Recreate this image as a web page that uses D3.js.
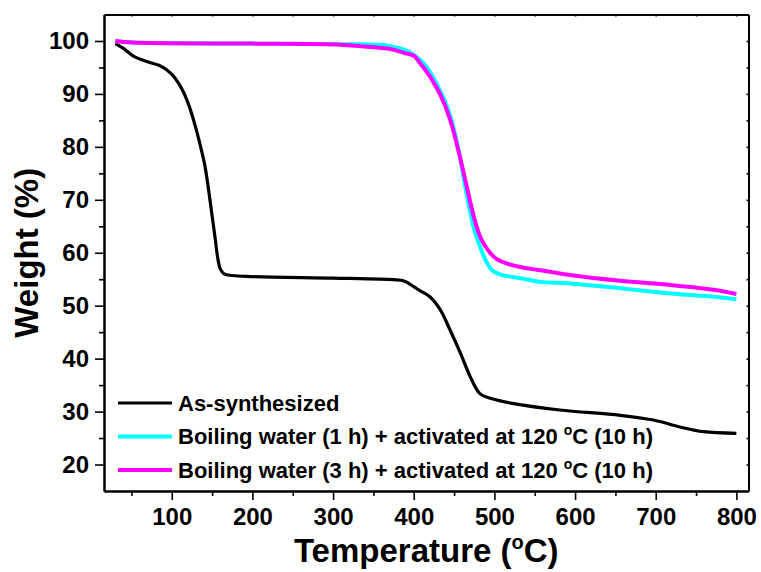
<!DOCTYPE html>
<html>
<head>
<meta charset="utf-8">
<script src="https://cdn.jsdelivr.net/npm/d3@7"></script>
<style>
  body { margin: 0; background: #fff; }
  text { font-family: "Liberation Sans", Arial, sans-serif; font-weight: bold; fill: #000; }
</style>
</head>
<body>
<script>
// As-synthesized
const tempAs = [30, 40, 52, 69, 84, 94, 104, 114, 122, 129, 135, 141, 146, 150, 154, 157, 160, 165, 175, 197, 300, 358, 387, 400, 408, 420, 433, 445, 458, 470, 482, 495, 524, 581, 656, 697, 730, 759, 800]
const weightAs = [99.5, 98.6, 97.2, 96.1, 95.4, 94.5, 93.0, 90.5, 87.5, 84.0, 80.5, 76.5, 71.5, 67.0, 62.5, 59.0, 57.0, 56.0, 55.7, 55.5, 55.2, 55.0, 54.7, 53.6, 52.8, 51.7, 49.2, 45.4, 41.0, 36.6, 33.4, 32.5, 31.5, 30.3, 29.3, 28.4, 27.1, 26.2, 25.9]

// Boiling water (1 h)
const temp1h = [30, 52, 200, 317, 358, 371, 391, 412, 433, 445, 455, 465, 474, 482, 490, 497, 507, 515, 532, 557, 594, 656, 718, 772, 800]
const weight1h = [100, 99.7, 99.5, 99.4, 99.3, 99.0, 98.2, 95.8, 90.5, 86.0, 79.8, 71.5, 64.9, 61.2, 58.3, 56.7, 55.9, 55.6, 55.2, 54.5, 54.2, 53.3, 52.3, 51.7, 51.2]

// Boiling water (3 h)
const temp3h = [30, 52, 200, 309, 358, 371, 391, 400, 408, 420, 433, 445, 455, 465, 475, 483, 492, 503, 515, 532, 557, 594, 656, 718, 772, 800]
const weight3h = [100, 99.7, 99.5, 99.3, 98.7, 98.5, 97.6, 97.2, 95.8, 93.3, 89.8, 85.2, 79.5, 73.0, 66.5, 62.8, 60.5, 58.8, 58.0, 57.3, 56.7, 55.8, 54.7, 53.9, 53.0, 52.2]

const xTicks = [100, 200, 300, 400, 500, 600, 700, 800]
const yTicks = [20, 30, 40, 50, 60, 70, 80, 90, 100]

const series = [
  {name: 'As-synthesized', temp: tempAs, weight: weightAs, color: '#000000', width: 3.2},
  {name: 'Boiling water (1 h) + activated at 120 ', temp: temp1h, weight: weight1h, color: '#00ffff', width: 4},
  {name: 'Boiling water (3 h) + activated at 120 ', temp: temp3h, weight: weight3h, color: '#ff00ff', width: 4}
]

const W = 761, H = 572
const margin = {top: 14.5, right: 12.5, bottom: 81, left: 104}
const width = W - margin.left - margin.right
const height = H - margin.top - margin.bottom

const svg = d3.select('body').append('svg')
  .attr('width', W)
  .attr('height', H)

const g = svg.append('g')
  .attr('transform', `translate(${margin.left},${margin.top})`)

const xScale = d3.scaleLinear().domain([16, 815]).range([0, width])
const yScale = d3.scaleLinear().domain([15, 105]).range([height, 0])

// minor ticks
const xMinor = d3.range(50, 801, 100)
const yMinor = d3.range(25, 101, 10)

function styleAxis(sel) {
  sel.select('.domain').attr('stroke', '#000').attr('stroke-width', 2)
  sel.selectAll('.tick line').attr('stroke', '#000').attr('stroke-width', 1.6)
}

function styleText(a) {
  a.selectAll('text').attr('font-size', 24).attr('font-weight', 'bold')
    .attr('font-family', '"Liberation Sans", Arial, sans-serif')
}

g.append('g')
  .attr('transform', `translate(0,${height})`)
  .call(d3.axisBottom(xScale).tickValues(xMinor).tickSize(5).tickFormat('').tickSizeOuter(0))
  .call(styleAxis)

g.append('g')
  .attr('transform', `translate(0,${height})`)
  .call(d3.axisBottom(xScale).tickValues(xTicks).tickSize(9).tickPadding(8).tickSizeOuter(0))
  .call(styleAxis)
  .call(styleText)

g.append('g')
  .call(d3.axisLeft(yScale).tickValues(yMinor).tickSize(5).tickFormat('').tickSizeOuter(0))
  .call(styleAxis)

g.append('g')
  .call(d3.axisLeft(yScale).tickValues(yTicks).tickSize(9).tickPadding(6).tickSizeOuter(0))
  .call(styleAxis)
  .call(styleText)

// top and right frame with tiny inward ticks
g.append('g')
  .call(d3.axisTop(xScale).tickValues(d3.range(50, 801, 50)).tickSize(-2).tickFormat('').tickSizeOuter(0))
  .call(styleAxis)

g.append('g')
  .attr('transform', `translate(${width},0)`)
  .call(d3.axisRight(yScale).tickValues(d3.range(20, 101, 5)).tickSize(-2).tickFormat('').tickSizeOuter(0))
  .call(styleAxis)

const line = d3.line()
  .x(d => xScale(d[0]))
  .y(d => yScale(d[1]))
  .curve(d3.curveCatmullRom.alpha(0.5))

series.forEach(s => {
  g.append('path')
    .datum(d3.zip(s.temp, s.weight))
    .attr('fill', 'none')
    .attr('stroke', s.color)
    .attr('stroke-width', s.width)
    .attr('stroke-linejoin', 'round')
    .attr('d', line)
})

// legend
const legend = svg.append('g')
series.forEach((s, i) => {
  const y = 403 + i * 33.5
  legend.append('line')
    .attr('x1', 118).attr('x2', 172)
    .attr('y1', y).attr('y2', y)
    .attr('stroke', s.color)
    .attr('stroke-width', s.width)
  const t = legend.append('text')
    .attr('x', 178).attr('y', y + 7.5)
    .attr('font-size', 22)
    .text(s.name)
  if (i > 0) {
    t.append('tspan').attr('font-size', 14).attr('dy', -9).text('o')
    t.append('tspan').attr('dy', 9).text('C (10 h)')
  }
})

// axis titles
const xt = svg.append('text')
  .attr('x', margin.left + width / 2)
  .attr('y', 562)
  .attr('text-anchor', 'middle')
  .attr('font-size', 33)
  .text('Temperature (')
xt.append('tspan').attr('font-size', 20).attr('dy', -13).text('o')
xt.append('tspan').attr('dy', 13).text('C)')

svg.append('text')
  .attr('transform', `translate(38,${margin.top + height / 2}) rotate(-90)`)
  .attr('text-anchor', 'middle')
  .attr('font-size', 33)
  .text('Weight (%)')
</script>
</body>
</html>
